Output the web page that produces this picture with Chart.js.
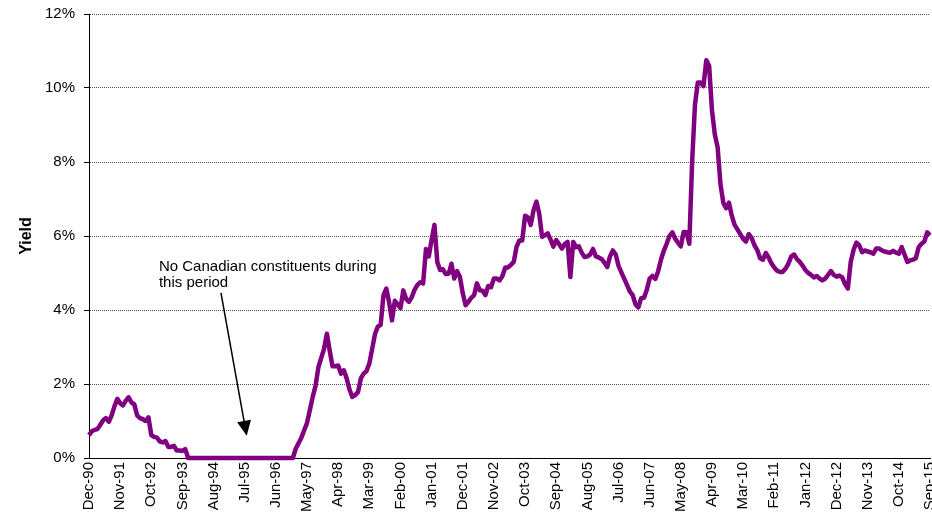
<!DOCTYPE html>
<html>
<head>
<meta charset="utf-8">
<script src="https://cdn.jsdelivr.net/npm/chart.js@4.4.1/dist/chart.umd.min.js"></script>
<style>
  html, body { margin: 0; padding: 0; background: #fff; }
  canvas { display: block; }
</style>
</head>
<body>
<canvas id="yieldChart" width="932" height="519"></canvas>
<script>
(function () {
  'use strict';

  // monthly yield (%), Dec-90 .. Sep-15
  const yield1991to1993 = [
    0.62, 0.72, 0.76, 0.78, 0.90, 1.02, 1.08, 0.98, 1.15, 1.40, 1.60, 1.48,
    1.42, 1.55, 1.64, 1.50, 1.45, 1.15, 1.08, 1.05, 1.00, 1.10, 0.62, 0.57,
    0.55, 0.45, 0.42, 0.46, 0.30, 0.30, 0.33, 0.20, 0.20, 0.19, 0.24, 0.00
  ];
  // no Canadian constituents
  const yield1994to1996 = [
    0, 0, 0, 0, 0, 0, 0, 0, 0, 0, 0, 0,
    0, 0, 0, 0, 0, 0, 0, 0, 0, 0, 0, 0,
    0, 0, 0, 0, 0, 0, 0, 0, 0, 0, 0, 0, 0
  ];
  const yield1997to2000 = [
    0.25, 0.40, 0.55, 0.75, 0.95, 1.30, 1.65, 1.95, 2.45, 2.70, 2.95, 3.36,
    2.90, 2.48, 2.48, 2.50, 2.28, 2.37, 2.15, 1.85, 1.65, 1.70, 1.78, 2.15,
    2.28, 2.35, 2.55, 2.95, 3.35, 3.55, 3.60, 4.40, 4.58, 4.20, 3.72, 4.25,
    4.15, 4.05, 4.53, 4.30, 4.22, 4.35, 4.55, 4.68, 4.75, 4.72, 5.65, 5.45
  ];
  const yield2001to2005 = [
    5.90, 6.30, 5.30, 5.08, 5.10, 4.97, 4.98, 5.25, 4.85, 5.05, 4.89, 4.45,
    4.13, 4.22, 4.33, 4.40, 4.72, 4.53, 4.52, 4.40, 4.65, 4.62, 4.85, 4.85,
    4.80, 4.92, 5.15, 5.15, 5.22, 5.30, 5.71, 5.88, 5.88, 6.55, 6.50, 6.30,
    6.70, 6.93, 6.60, 5.98, 6.02, 6.07, 5.90, 5.71, 5.89, 5.78, 5.66, 5.78,
    5.84, 4.89, 5.84
  ];
  const yield2005to2009 = [
    5.70, 5.72, 5.55, 5.43, 5.45, 5.50, 5.65, 5.45, 5.42, 5.38, 5.28, 5.16,
    5.45, 5.61, 5.50, 5.20, 5.02, 4.85, 4.68, 4.50, 4.40, 4.15, 4.07, 4.32,
    4.33, 4.55, 4.85, 4.92, 4.84, 5.05, 5.36, 5.60, 5.79, 6.00, 6.10, 5.93,
    5.82, 5.72, 6.11, 6.10, 5.79, 8.00, 9.55, 10.15, 10.15, 10.05, 10.75, 10.60,
    9.40, 8.75, 8.40
  ];
  const yield2009to2013 = [
    7.40, 6.90, 6.75, 6.90, 6.55, 6.30, 6.18, 6.05, 5.92, 5.85, 6.05, 5.95,
    5.75, 5.62, 5.40, 5.36, 5.54, 5.42, 5.26, 5.15, 5.06, 5.03, 5.03, 5.12,
    5.25, 5.45, 5.50, 5.38, 5.30, 5.20, 5.08, 5.00, 4.95, 4.88, 4.92, 4.85,
    4.80, 4.85, 4.95, 5.05, 4.95, 4.90, 4.93, 4.88, 4.70, 4.58, 5.30, 5.62
  ];
  const yield2013to2015 = [
    5.82, 5.75, 5.56, 5.61, 5.58, 5.56, 5.52, 5.66, 5.66, 5.61, 5.58, 5.56,
    5.55, 5.60, 5.55, 5.52, 5.70, 5.50, 5.30, 5.34, 5.36, 5.40, 5.70, 5.79,
    5.85, 6.10, 6.02
  ];

  const TICK_LABELS = [
    'Dec-90', 'Nov-91', 'Oct-92', 'Sep-93', 'Aug-94', 'Jul-95', 'Jun-96',
    'May-97', 'Apr-98', 'Mar-99', 'Feb-00', 'Jan-01', 'Dec-01', 'Nov-02',
    'Oct-03', 'Sep-04', 'Aug-05', 'Jul-06', 'Jun-07', 'May-08', 'Apr-09',
    'Mar-10', 'Feb-11', 'Jan-12', 'Dec-12', 'Nov-13', 'Oct-14', 'Sep-15'
  ];
  const Y_TICKS = [0, 2, 4, 6, 8, 10, 12];

  const NOTE_LINES = ['No Canadian constituents during', 'this period'];
  const NOTE_AT = [24.7, 5.06];       // [month index, yield]
  const ARROW_FROM = [46.6, 4.46];
  const ARROW_TO = [55.7, 0.60];

  const MON = ['Jan', 'Feb', 'Mar', 'Apr', 'May', 'Jun', 'Jul', 'Aug', 'Sep', 'Oct', 'Nov', 'Dec'];
  const yields = [].concat(yield1991to1993, yield1994to1996, yield1997to2000,
    yield2001to2005, yield2005to2009, yield2009to2013, yield2013to2015);
  const months = yields.map((_, i) => {
    const m = 11 + i;
    const yr = 1990 + Math.floor(m / 12);
    return MON[m % 12] + '-' + String(yr % 100).padStart(2, '0');
  });

  const FONT = '"Liberation Sans", Arial, sans-serif';
  Chart.defaults.font.family = FONT;
  Chart.defaults.color = '#000';

  const notePlugin = {
    id: 'note',
    afterDatasetsDraw(chart) {
      const { ctx, scales: { x, y } } = chart;
      ctx.save();
      ctx.fillStyle = '#000';
      ctx.strokeStyle = '#000';
      ctx.font = '15px ' + FONT;
      ctx.textAlign = 'left';
      ctx.textBaseline = 'alphabetic';
      const tx = x.getPixelForValue(NOTE_AT[0]);
      const ty = y.getPixelForValue(NOTE_AT[1]);
      NOTE_LINES.forEach((t, k) => ctx.fillText(t, tx, ty + k * 16.5));

      const x1 = x.getPixelForValue(ARROW_FROM[0]), y1 = y.getPixelForValue(ARROW_FROM[1]);
      const x2 = x.getPixelForValue(ARROW_TO[0]), y2 = y.getPixelForValue(ARROW_TO[1]);
      const len = Math.hypot(x2 - x1, y2 - y1);
      const ux = (x2 - x1) / len, uy = (y2 - y1) / len;
      const head = 15, half = 7;
      const bx = x2 - ux * head, by = y2 - uy * head;
      ctx.lineWidth = 1.5;
      ctx.beginPath();
      ctx.moveTo(x1, y1);
      ctx.lineTo(bx, by);
      ctx.stroke();
      ctx.beginPath();
      ctx.moveTo(x2, y2);
      ctx.lineTo(bx - uy * half, by + ux * half);
      ctx.lineTo(bx + uy * half, by - ux * half);
      ctx.closePath();
      ctx.fill();
      ctx.restore();
    }
  };

  new Chart(document.getElementById('yieldChart'), {
    type: 'line',
    data: {
      labels: months,
      datasets: [{
        data: yields,
        borderColor: '#800080',
        borderWidth: 4.5,
        borderJoinStyle: 'round',
        pointRadius: 0,
        tension: 0,
        fill: false,
        clip: false
      }]
    },
    options: {
      responsive: false,
      animation: false,
      devicePixelRatio: 1,
      layout: { padding: { left: 0, top: 14, right: 2, bottom: 0 } },
      plugins: {
        legend: { display: false },
        tooltip: { enabled: false }
      },
      scales: {
        x: {
          offset: false,
          grid: { display: false, drawTicks: false },
          border: { display: true, color: '#000', width: 1 },
          ticks: {
            autoSkip: false,
            maxRotation: 90,
            minRotation: 90,
            padding: 4,
            font: { size: 15 },
            color: '#000',
            callback: (v, i) => TICK_LABELS.includes(months[i]) ? months[i] : null
          },
          afterFit: s => { s.height = 61; s.paddingLeft = 0; s.paddingRight = 0; }
        },
        y: {
          min: 0,
          max: 12,
          afterBuildTicks: s => { s.ticks = Y_TICKS.map(v => ({ value: v })); },
          grid: {
            color: '#555',
            lineWidth: 1,
            drawTicks: true,
            tickLength: 5,
            tickColor: '#000'
          },
          border: { display: true, color: '#000', width: 1, dash: [1, 1] },
          ticks: {
            padding: 9,
            font: { size: 15 },
            color: '#000',
            callback: v => v + '%'
          },
          title: {
            display: true,
            text: 'Yield',
            color: '#000',
            font: { size: 16, weight: 'bold' },
            padding: { top: 17, bottom: 0 }
          },
          afterFit: s => { s.width = 89; s.paddingTop = 0; s.paddingBottom = 0; }
        }
      }
    },
    plugins: [notePlugin]
  });
})();
</script>
</body>
</html>
